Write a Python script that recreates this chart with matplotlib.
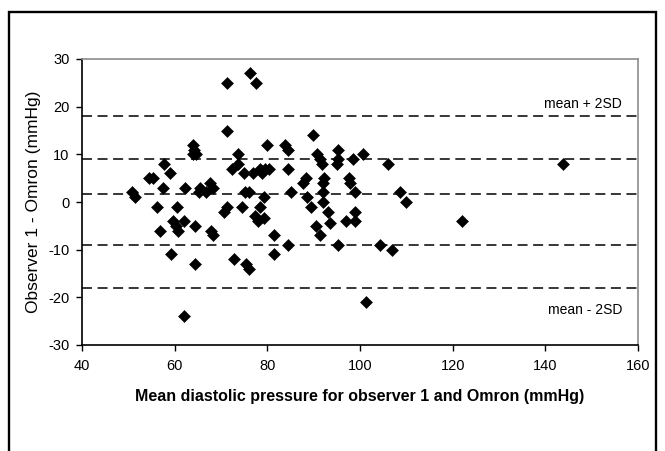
import matplotlib
matplotlib.use("Agg")
import matplotlib.pyplot as plt
from matplotlib.patches import Rectangle

plt.rcParams['font.family'] = ['Liberation Sans', 'DejaVu Sans']
plt.rcParams['lines.scale_dashes'] = False
plt.rcParams['axes.unicode_minus'] = False

# Mean diastolic pressure (x) and difference observer 1 - Omron (y)
mean_bp = [50.8, 51.4, 54.5, 55.4, 56.2, 56.9, 57.5, 57.8, 59.0, 59.3,
           59.7, 60.3, 60.8, 60.4, 62.0, 62.2, 62.0, 63.9, 64.2, 63.9,
           64.7, 64.4, 64.4, 65.4, 65.2, 66.8, 67.7, 68.3, 67.8, 68.3,
           70.7, 71.3, 71.3, 71.3, 72.3, 72.9, 73.7, 73.7, 74.5, 75.0,
           75.1, 76.0, 75.4, 76.0, 76.3, 77.5, 77.0, 77.4, 77.9, 79.3,
           78.4, 79.3, 78.4, 78.9, 79.4, 80.3, 79.9, 81.5, 81.5, 83.8,
           84.4, 84.4, 84.4, 85.0, 87.8, 88.3, 88.5, 89.4, 89.9, 90.8,
           91.4, 91.9, 90.4, 91.4, 92.3, 92.1, 92.0, 92.1, 93.0, 93.6,
           95.3, 95.3, 95.0, 95.3, 96.9, 97.6, 97.8, 98.4, 98.9, 98.9,
           98.9, 100.7, 101.4, 104.4, 106.0, 106.8, 108.7, 109.9, 122.1, 143.9]
diff_bp = [2, 1, 5, 5, -1, -6, 3, 8, 6, -11,
           -4, -5, -6, -1, -4, 3, -24, 12, 11, 10,
           10, -5, -13, 3, 2, 2, 4, 3, -6, -7,
           -2, -1, 25, 15, 7, -12, 10, 8, -1, 6,
           2, 2, -13, -14, 27, 25, 6, -3, -4, -3.4,
           -1, 1, 7, 6, 7, 7, 12, -7, -11, 12,
           11, 7, -9, 2, 4, 5, 1, -1, 14, 10,
           9, 8, -5, -7, 5, 4, 2, 0, -2, -4.5,
           11, 9, 8, -9, -4, 5, 4, 9, 2, -2,
           -4, 10, -21, -9, 8, -10, 2, 0, -4, 8]

# Reference lines: mean - 2SD, mean - SD, mean, mean + SD, mean + 2SD
ref_lines = [-18, -9, 1.75, 9, 18]
label_upper = "mean + 2SD"
label_lower = "mean - 2SD"

xlabel = "Mean diastolic pressure for observer 1 and Omron (mmHg)"
ylabel = "Observer 1 - Omron (mmHg)"
x_ticks = [40, 60, 80, 100, 120, 140, 160]
y_ticks = [-30, -20, -10, 0, 10, 20, 30]

W, H = 665, 451
fig = plt.figure(figsize=(W / 100, H / 100), dpi=100)
fig.patch.set_facecolor('white')

# outer frame
frame = Rectangle((9 / W, -0.05), (656 - 9) / W, 1 - 11.5 / H + 0.05,
                  transform=fig.transFigure, fill=False, edgecolor='black',
                  linewidth=1.7, clip_on=False)
fig.patches.append(frame)

ax = fig.add_axes([82 / W, 1 - 345 / H, (638 - 82) / W, (345 - 59) / H])

for yv in ref_lines:
    ax.axhline(yv, color='black', linewidth=1.1, dashes=(7.2, 4.0), zorder=1)

ax.plot(mean_bp, diff_bp, linestyle='none', marker='D', markersize=5.9,
        markerfacecolor='black', markeredgecolor='black', markeredgewidth=0.4,
        zorder=3)

ax.set_xlim(40, 160)
ax.set_ylim(-30, 30)
ax.set_xticks(x_ticks)
ax.set_yticks(y_ticks)
ax.tick_params(axis='both', direction='out', length=4, width=1, colors='black',
               labelsize=10.5)
ax.tick_params(axis='x', pad=6)
ax.tick_params(axis='y', pad=5)

for side in ['top', 'right']:
    ax.spines[side].set_color('#8c8c8c')
    ax.spines[side].set_linewidth(1.2)
for side in ['left', 'bottom']:
    ax.spines[side].set_color('black')
    ax.spines[side].set_linewidth(1.2)

ax.text(156.6, 19.7, label_upper, ha='right', va='baseline', fontsize=10)
ax.text(156.6, -23.4, label_lower, ha='right', va='baseline', fontsize=10)

fig.text(360 / W, 1 - 397 / H, xlabel, ha='center', va='center',
         fontsize=11.5, fontweight='bold')
fig.text(33.5 / W, 1 - 202 / H, ylabel, ha='center', va='center',
         rotation=90, fontsize=12.5)

fig.savefig('out.png', dpi=100, facecolor='white')
